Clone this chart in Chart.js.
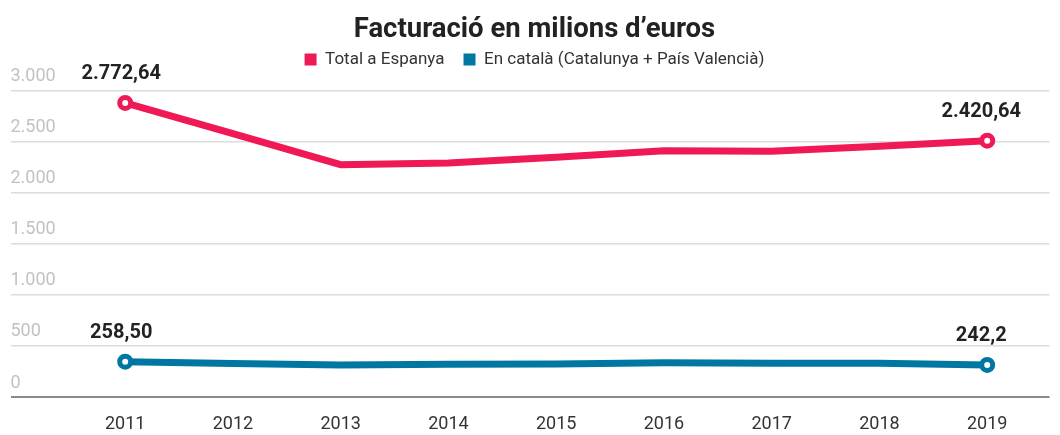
<!DOCTYPE html>
<html>
<head>
<meta charset="utf-8">
<script src="https://cdn.jsdelivr.net/npm/chart.js@4/dist/chart.umd.min.js"></script>
<style>
  html, body { margin: 0; padding: 0; background: #fff; }
  #wrap { width: 1060px; height: 435px; position: relative; }
</style>
</head>
<body>
<div id="wrap"><canvas id="c"></canvas></div>
<script>
const titleText = 'Facturació en milions d\u2019euros';
const years = [2011, 2012, 2013, 2014, 2015, 2016, 2017, 2018, 2019];
const seriesNames = ['Total a Espanya', 'En català (Catalunya + País Valencià)'];
const totalEspanya = [2879, 2578, 2275, 2291, 2348, 2412, 2405, 2454, 2510];
const enCatala = [346, 328, 314, 320, 324, 336, 330, 330, 314];
const totalEndLabels = ['2.772,64', '2.420,64'];
const catalaEndLabels = ['258,50', '242,2'];
const yTickValues = [0, 500, 1000, 1500, 2000, 2500, 3000];

const RED = '#ef1956';
const BLUE = '#0077a3';
const FONT = 'Roboto, "Liberation Sans", Arial, sans-serif';

function fmtThousands(v) {
  return String(v).replace(/\B(?=(\d{3})+(?!\d))/g, '.');
}

const endLabelsPlugin = {
  id: 'endLabels',
  afterDatasetsDraw(chart) {
    const ctx = chart.ctx;
    const sets = [totalEndLabels, catalaEndLabels];
    ctx.save();
    ctx.font = 'bold 20px ' + FONT;
    ctx.fillStyle = '#222';
    ctx.textAlign = 'center';
    ctx.textBaseline = 'middle';
    chart.data.datasets.forEach((ds, di) => {
      const meta = chart.getDatasetMeta(di);
      const pts = meta.data;
      const first = pts[0], last = pts[pts.length - 1];
      ctx.fillText(sets[di][0], first.x - 4, first.y - 29);
      ctx.fillText(sets[di][1], last.x - 6, last.y - 29);
    });
    ctx.restore();
  }
};

// legend: extra space beneath it and drawn a little higher
const legendSpacing = {
  id: 'legendSpacing',
  beforeLayout(chart) {
    const lg = chart.legend;
    if (lg && !lg._patched) {
      const f = lg.fit;
      lg.fit = function () { f.call(this); this.height -= 2.4; };
      lg._patched = true;
    }
  },
  afterLayout(chart) {
    const lg = chart.legend;
    if (lg) { lg.top -= 15; lg.bottom -= 15; }
  }
};

function endPointRadius(ctx) {
  const n = ctx.dataset.data.length;
  return (ctx.dataIndex === 0 || ctx.dataIndex === n - 1) ? 5.5 : 0;
}

new Chart(document.getElementById('c'), {
  type: 'line',
  data: {
    datasets: [
      {
        label: seriesNames[0],
        data: years.map((y, i) => ({ x: y, y: totalEspanya[i] })),
        borderColor: RED,
        backgroundColor: RED,
        borderWidth: 7,
        pointRadius: endPointRadius,
        pointBackgroundColor: '#fff',
        pointBorderColor: RED,
        pointBorderWidth: 5,
        tension: 0,
        clip: false
      },
      {
        label: seriesNames[1],
        data: years.map((y, i) => ({ x: y, y: enCatala[i] })),
        borderColor: BLUE,
        backgroundColor: BLUE,
        borderWidth: 7,
        pointRadius: endPointRadius,
        pointBackgroundColor: '#fff',
        pointBorderColor: BLUE,
        pointBorderWidth: 5,
        tension: 0,
        clip: false
      }
    ]
  },
  options: {
    responsive: true,
    maintainAspectRatio: false,
    animation: false,
    layout: { padding: { left: 9, right: 0, top: 0, bottom: 0 } },
    plugins: {
      title: {
        display: true,
        text: titleText,
        color: '#222',
        font: { family: FONT, size: 27.5, weight: 'bold', lineHeight: 1.2 },
        padding: { top: 14, bottom: 0 }
      },
      legend: {
        display: true,
        labels: {
          color: '#333',
          font: { family: FONT, size: 17 },
          boxWidth: 12,
          boxHeight: 12,
          padding: 19,
          generateLabels(chart) {
            return chart.data.datasets.map((ds, i) => ({
              text: ds.label,
              fillStyle: ds.borderColor,
              strokeStyle: ds.borderColor,
              lineWidth: 0,
              hidden: false,
              datasetIndex: i,
              fontColor: '#333'
            }));
          }
        }
      },
      tooltip: { enabled: false }
    },
    scales: {
      x: {
        type: 'linear',
        min: 2009.9355,
        max: 2019.578,
        afterBuildTicks(scale) {
          scale.ticks = years.map(v => ({ value: v }));
        },
        afterFit(scale) { scale.height = 38; },
        grid: { display: false, drawTicks: false },
        border: { display: false },
        ticks: {
          color: '#333',
          font: { family: FONT, size: 18 },
          padding: 17,
          callback: v => String(v)
        }
      },
      y: {
        min: 0,
        max: 3000,
        afterBuildTicks(scale) {
          scale.ticks = yTickValues.map(v => ({ value: v }));
        },
        grid: {
          drawTicks: false,
          color: c => (c.tick && c.tick.value === 0) ? '#8a8a8a' : '#dcdcdc',
          lineWidth: c => (c.tick && c.tick.value === 0) ? 2 : 1.5
        },
        border: { display: false },
        ticks: {
          mirror: true,
          padding: 0,
          labelOffset: -14,
          color: '#c2c2c2',
          font: { family: FONT, size: 18 },
          callback: v => fmtThousands(v)
        }
      }
    }
  },
  plugins: [endLabelsPlugin, legendSpacing]
});
</script>
</body>
</html>
